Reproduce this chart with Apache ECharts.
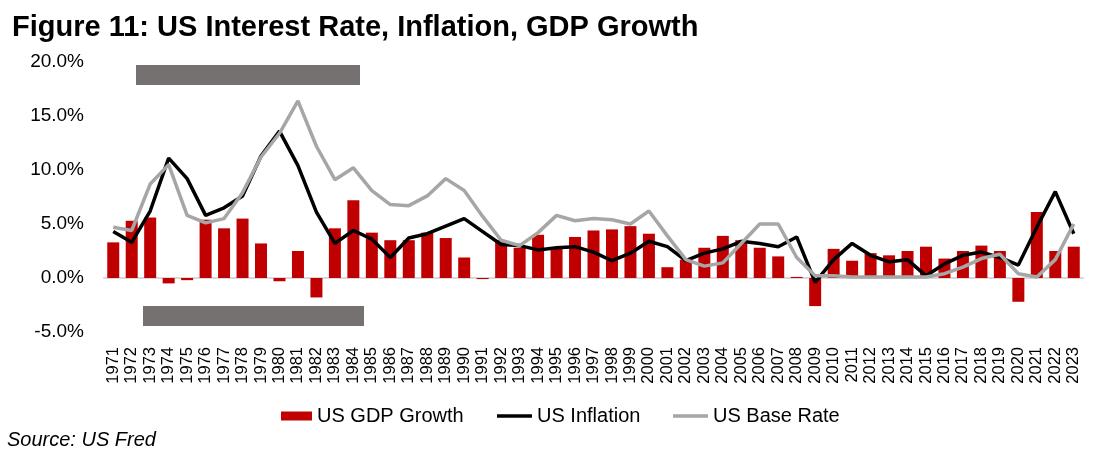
<!DOCTYPE html>
<html>
<head>
<meta charset="utf-8">
<script src="https://cdn.jsdelivr.net/npm/echarts@6/dist/echarts.min.js"></script>
<style>
html,body{margin:0;padding:0;background:#fff;}
#chart{width:1101px;height:465px;}
</style>
</head>
<body>
<div id="chart"></div>
<script>
var years = ['1971','1972','1973','1974','1975','1976','1977','1978','1979','1980',
  '1981','1982','1983','1984','1985','1986','1987','1988','1989','1990',
  '1991','1992','1993','1994','1995','1996','1997','1998','1999','2000',
  '2001','2002','2003','2004','2005','2006','2007','2008','2009','2010',
  '2011','2012','2013','2014','2015','2016','2017','2018','2019','2020',
  '2021','2022','2023'];

var gdpGrowth = [3.3, 5.3, 5.6, -0.5, -0.2, 5.4, 4.6, 5.5, 3.2, -0.3,
  2.5, -1.8, 4.6, 7.2, 4.2, 3.5, 3.5, 4.2, 3.7, 1.9,
  -0.1, 3.5, 2.8, 4.0, 2.7, 3.8, 4.4, 4.5, 4.8, 4.1,
  1.0, 1.7, 2.8, 3.9, 3.5, 2.8, 2.0, 0.1, -2.6, 2.7,
  1.6, 2.3, 2.1, 2.5, 2.9, 1.8, 2.5, 3.0, 2.5, -2.2,
  6.1, 2.5, 2.9];

var inflation = [4.3, 3.3, 6.2, 11.1, 9.2, 5.8, 6.5, 7.6, 11.3, 13.6,
  10.4, 6.1, 3.2, 4.4, 3.6, 1.9, 3.7, 4.1, 4.8, 5.5,
  4.3, 3.1, 3.0, 2.6, 2.8, 2.9, 2.4, 1.6, 2.3, 3.4,
  2.9, 1.6, 2.3, 2.7, 3.4, 3.2, 2.9, 3.8, -0.4, 1.7,
  3.2, 2.1, 1.5, 1.7, 0.2, 1.3, 2.1, 2.4, 1.9, 1.2,
  4.7, 8.0, 4.1];

var baseRate = [4.7, 4.4, 8.7, 10.5, 5.8, 5.1, 5.5, 7.9, 11.2, 13.4,
  16.4, 12.2, 9.1, 10.2, 8.1, 6.8, 6.7, 7.6, 9.2, 8.1,
  5.7, 3.5, 3.0, 4.2, 5.8, 5.3, 5.5, 5.4, 5.0, 6.2,
  3.9, 1.7, 1.1, 1.4, 3.2, 5.0, 5.0, 1.9, 0.2, 0.2,
  0.1, 0.1, 0.1, 0.1, 0.1, 0.4, 1.0, 1.8, 2.2, 0.4,
  0.1, 1.7, 5.0];

var yTicks = [-5, 0, 5, 10, 15, 20];

var FONT = '"Liberation Sans", Arial, Helvetica, sans-serif';
var chart = echarts.init(document.getElementById('chart'), null, {renderer: 'canvas'});

chart.setOption({
  animation: false,
  backgroundColor: '#ffffff',
  textStyle: {fontFamily: FONT},
  title: {
    text: 'Figure 11: US Interest Rate, Inflation, GDP Growth',
    left: 7, top: 8,
    textStyle: {fontFamily: FONT, fontSize: 29, fontWeight: 'bold', color: '#000'}
  },
  grid: {left: 104, right: 18, top: 62, bottom: 133, containLabel: false},
  legend: [
    {data: ['US GDP Growth'], left: 276, top: 401, icon: 'rect', itemWidth: 31, itemHeight: 9,
     textStyle: {fontFamily: FONT, fontSize: 20, color: '#000'}},
    {data: ['US Inflation'], left: 492, top: 401, icon: 'rect', itemWidth: 35, itemHeight: 3.5,
     textStyle: {fontFamily: FONT, fontSize: 20, color: '#000'}},
    {data: ['US Base Rate'], left: 668, top: 401, icon: 'rect', itemWidth: 35, itemHeight: 3.5,
     textStyle: {fontFamily: FONT, fontSize: 20, color: '#000'}}
  ],
  graphic: [
    {type: 'rect', left: 136, top: 65, shape: {width: 224, height: 20}, style: {fill: '#767171'}, z: 10},
    {type: 'rect', left: 143, top: 306, shape: {width: 221, height: 20}, style: {fill: '#767171'}, z: 10},
    {type: 'text', left: 7, top: 430, style: {text: 'Source: US Fred', font: 'italic 20px ' + FONT, fill: '#000'}}
  ],
  xAxis: [
    {
      type: 'category', data: years, position: 'bottom',
      axisLine: {show: false, onZero: false},
      axisTick: {show: false},
      axisLabel: {rotate: 90, interval: 0, margin: 15, fontSize: 16.5, color: '#000', fontFamily: FONT}
    },
    {
      type: 'category', data: years, position: 'bottom',
      axisLine: {show: true, onZero: true, lineStyle: {color: '#D9D9D9', width: 2}},
      axisTick: {show: false},
      axisLabel: {show: false}
    }
  ],
  yAxis: {
    type: 'value', min: yTicks[0], max: yTicks[yTicks.length - 1], interval: 5,
    axisLine: {show: false}, axisTick: {show: false}, splitLine: {show: false},
    axisLabel: {margin: 20, fontSize: 19, color: '#000', fontFamily: FONT,
      formatter: function (v) { return v.toFixed(1) + '%'; }}
  },
  series: [
    {name: 'US GDP Growth', type: 'bar', data: gdpGrowth, barWidth: 12,
     itemStyle: {color: '#C00000'}, z: 2},
    {name: 'US Inflation', type: 'line', data: inflation, symbol: 'none',
     lineStyle: {color: '#000000', width: 3.5}, itemStyle: {color: '#000000'}, z: 3},
    {name: 'US Base Rate', type: 'line', data: baseRate, symbol: 'none',
     lineStyle: {color: '#A6A6A6', width: 3.5}, itemStyle: {color: '#A6A6A6'}, z: 4}
  ]
});
</script>
</body>
</html>
